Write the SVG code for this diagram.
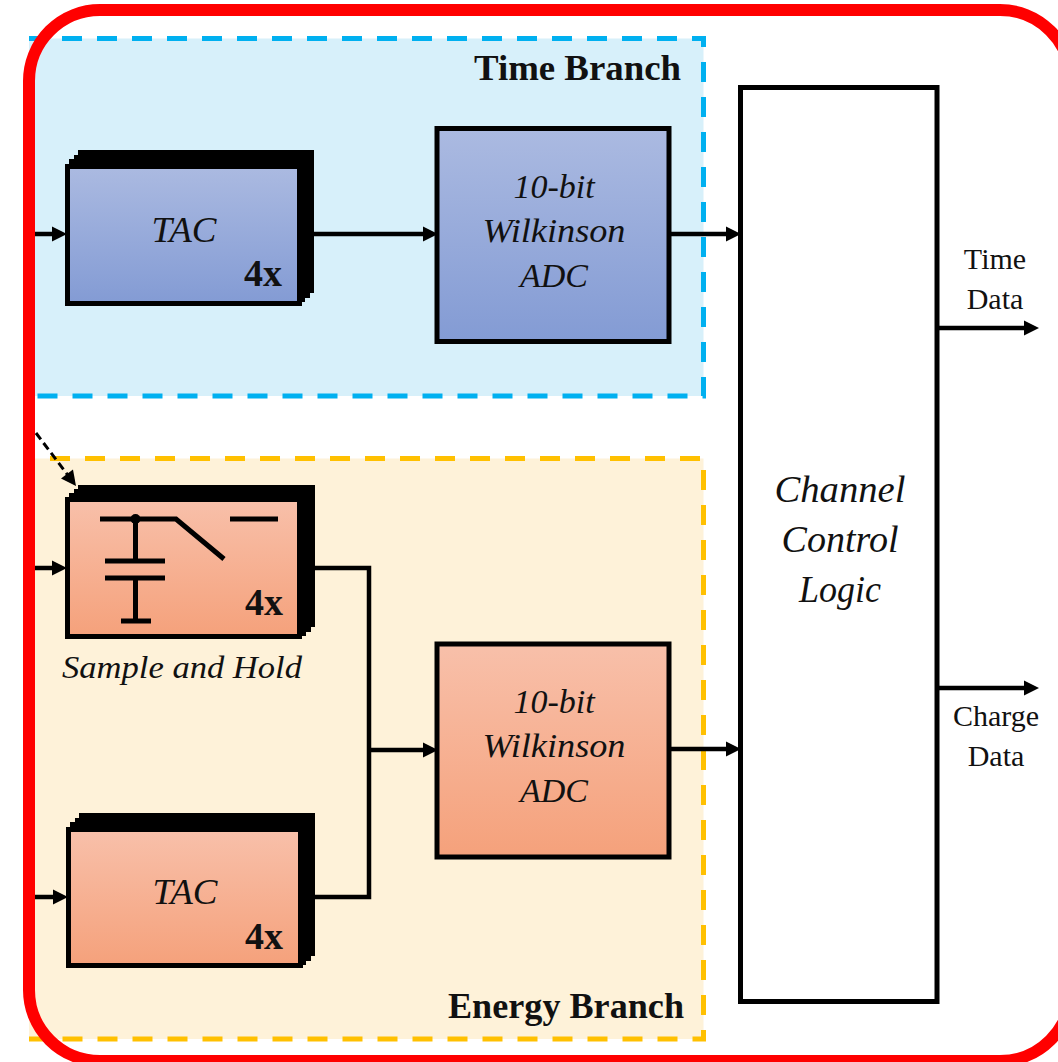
<svg xmlns="http://www.w3.org/2000/svg" width="1058" height="1062" viewBox="0 0 1058 1062">
<style>
text{font-family:"Liberation Serif","Times New Roman",serif;fill:#111}
.i{font-style:italic;font-size:36px;text-anchor:middle}
.a{font-style:italic;font-size:34px;text-anchor:middle}
.b{font-weight:bold;font-size:36px}
.x{font-weight:bold;font-size:38px;text-anchor:middle}
.d{font-size:30px;text-anchor:middle}
.box{stroke:#000;stroke-width:5}
.w{fill:none;stroke:#000;stroke-width:4.500}
.e{fill:none;stroke:#000;stroke-width:4.500;marker-end:url(#a)}
.s{fill:none;stroke:#000;stroke-width:5}
.dash{fill:none;stroke-width:5;stroke-dasharray:20 15}
</style>
<defs>
<linearGradient id="bl" x1="0" y1="0" x2="0" y2="1"><stop offset="0" stop-color="#abbae1"/><stop offset="1" stop-color="#839bd4"/></linearGradient>
<linearGradient id="or" x1="0" y1="0" x2="0" y2="1"><stop offset="0" stop-color="#f8c0aa"/><stop offset="1" stop-color="#f5a17b"/></linearGradient>
<marker id="a" markerUnits="userSpaceOnUse" markerWidth="16" markerHeight="16" refX="5" refY="8" orient="auto" overflow="visible"><path d="M0 0.500L15 8L0 15.500Z" fill="#000"/></marker>
</defs>
<g id="time-branch"><rect x="29" y="38.500" width="674.500" height="357.500" fill="#d7f0fa"/><path class="dash" stroke="#00b0f0" stroke-dashoffset="2" d="M29 38.500H703.500V396H29"/><text class="b" x="681" y="80" text-anchor="end" textLength="207" lengthAdjust="spacingAndGlyphs">Time Branch</text></g>
<g id="energy-branch"><rect x="29" y="458.500" width="674.500" height="580.500" fill="#fef2d9"/><path class="dash" stroke="#ffc000" stroke-dashoffset="14" d="M29 458.500H703.500V1039H29"/><text class="b" x="684" y="1018" text-anchor="end" textLength="236" lengthAdjust="spacingAndGlyphs">Energy Branch</text></g>
<g id="tac-time">
<rect x="78" y="150" width="236" height="143"/><rect x="74" y="155" width="236" height="143"/><rect x="69" y="159" width="236" height="143"/>
<rect class="box" x="67.500" y="166.500" width="232" height="137" fill="url(#bl)"/>
<text class="i" x="184" y="242" textLength="65" lengthAdjust="spacingAndGlyphs">TAC</text><text class="x" x="263" y="286">4x</text></g>
<g id="sample-hold">
<rect x="78" y="485" width="237" height="142"/><rect x="74" y="489" width="237" height="143"/><rect x="69" y="493" width="237" height="143"/>
<rect class="box" x="67.500" y="499.500" width="232" height="137" fill="url(#or)"/>
<path class="s" d="M100 519H176L224 559M230 519H278M135.500 519V561M105 561H165M105 578H165M135.500 578V621M121 621H151"/><circle cx="135.500" cy="519" r="5"/>
<text class="x" x="264" y="615">4x</text>
<text class="i" x="182" y="678" style="font-size:32px" textLength="240" lengthAdjust="spacingAndGlyphs">Sample and Hold</text></g>
<g id="tac-energy">
<rect x="79" y="813" width="236" height="143"/><rect x="75" y="818" width="236" height="143"/><rect x="70" y="822" width="236" height="143"/>
<rect class="box" x="68.500" y="829.500" width="232" height="136" fill="url(#or)"/>
<text class="i" x="185" y="904" textLength="65" lengthAdjust="spacingAndGlyphs">TAC</text><text class="x" x="264" y="949">4x</text></g>
<g id="adc-time"><rect class="box" x="437" y="128.500" width="232" height="213" fill="url(#bl)"/>
<text class="a" x="554" y="198">10-bit</text><text class="a" x="554" y="242" textLength="143" lengthAdjust="spacingAndGlyphs">Wilkinson</text><text class="a" x="554" y="287">ADC</text></g>
<g id="adc-energy"><rect class="box" x="437" y="644" width="232" height="213" fill="url(#or)"/>
<text class="a" x="554" y="713">10-bit</text><text class="a" x="554" y="757" textLength="143" lengthAdjust="spacingAndGlyphs">Wilkinson</text><text class="a" x="554" y="802">ADC</text></g>
<g id="channel-control"><rect class="box" x="740.500" y="87.500" width="196.500" height="914" fill="#fff"/>
<text class="i" x="840" y="502" style="font-size:38px" textLength="131" lengthAdjust="spacingAndGlyphs">Channel</text><text class="i" x="840" y="552" style="font-size:38px" textLength="117" lengthAdjust="spacingAndGlyphs">Control</text><text class="i" x="840" y="602" style="font-size:38px" textLength="82" lengthAdjust="spacingAndGlyphs">Logic</text></g>
<g id="connectors">
<path class="e" d="M35 234H57"/><path class="e" d="M314 234H428"/><path class="e" d="M669 234H731"/>
<path class="e" d="M35 568H57"/><path class="e" d="M35 897H58"/>
<path class="w" d="M315 568H369V897H315"/><path class="e" d="M369 750H428"/><path class="e" d="M669 749H731"/>
<path class="e" d="M937 328H1029"/><path class="e" d="M937 688H1029"/>
<path d="M36 433L70 478" fill="none" stroke="#000" stroke-width="3" stroke-dasharray="8 4.500" marker-end="url(#a)"/>
</g>
<g id="labels"><text class="d" x="995" y="269">Time</text><text class="d" x="995" y="309">Data</text><text class="d" x="996" y="726">Charge</text><text class="d" x="996" y="766">Data</text></g>
<rect id="frame" x="29" y="10" width="1042" height="1051" rx="71" ry="71" fill="none" stroke="#f00" stroke-width="12"/>
</svg>
